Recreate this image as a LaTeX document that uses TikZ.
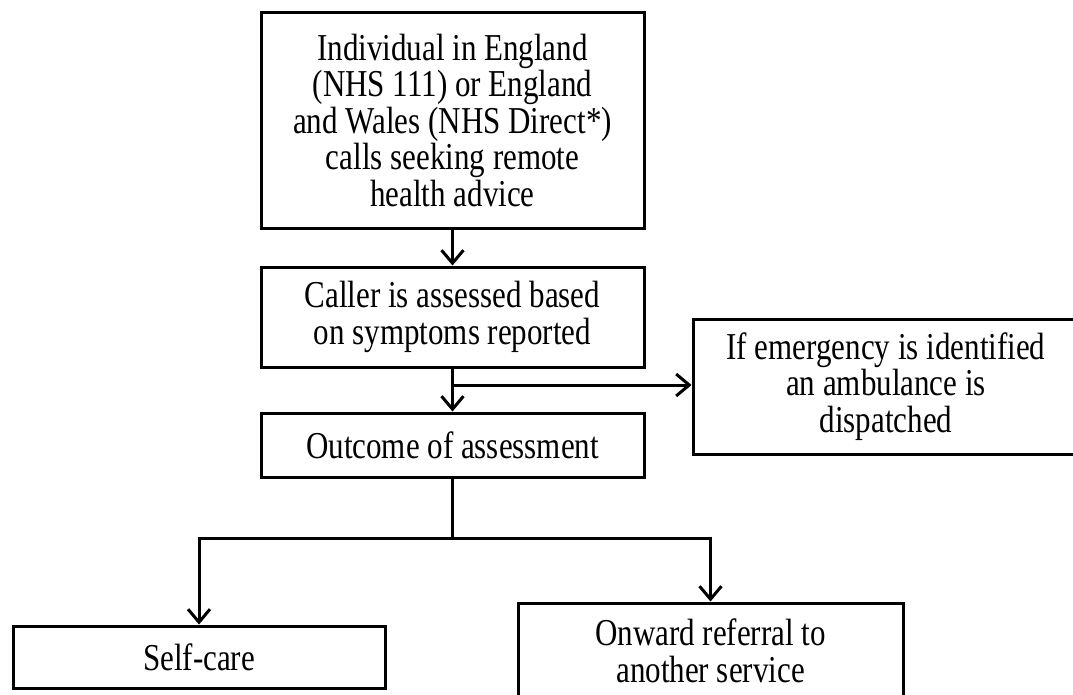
\documentclass[tikz,border=0pt]{standalone}
\usepackage{fontspec}
% tall, narrow serif lettering
\setmainfont{Liberation Serif}[FakeStretch=0.816]
\usetikzlibrary{arrows.meta}
\begin{document}
\begin{tikzpicture}[x=1pt,y=-1pt,
  box/.style={draw,line width=3pt,inner sep=0pt,align=center,
    font=\fontsize{38}{36.5}\selectfont},
  arr/.style={line width=3pt,-{Straight Barb[length=13pt,width=22pt,line width=3pt]}},
  link/.style={line width=3pt}]
\clip (0,0) rectangle (1073,695);
% process boxes
\node[box,minimum width=383pt,minimum height=215pt] (call) at (452.5,120.5)
  {Individual in England\\(NHS 111) or England\\and Wales (NHS Direct*)\\calls seeking remote\\health advice};
\node[box,minimum width=383pt,minimum height=100pt] (assess) at (452.5,317)
  {Caller is assessed based\\on symptoms reported};
\node[box,minimum width=383pt,minimum height=64pt] (outcome) at (452.5,445)
  {Outcome of assessment};
\node[box,minimum width=386pt,minimum height=135pt] (emerg) at (886,386.5)
  {If emergency is identified\\an ambulance is\\dispatched};
\node[box,minimum width=372pt,minimum height=62pt] (selfcare) at (199,657)
  {Self-care};
\node[box,minimum width=385pt,minimum height=96pt] (onward) at (710.5,651)
  {Onward referral to\\another service};
% connectors
\draw[arr] (call.south) -- (assess.north);
\draw[arr] (assess.south) -- (outcome.north);
\coordinate (fork) at (452.5,385);
\draw[arr] (fork) -- (fork -| emerg.west);
\coordinate (split) at (452.5,538);
\draw[link] (outcome.south) -- (split);
\draw[arr] (split) -| (selfcare.north);
\draw[arr] (split) -| (onward.north);
\end{tikzpicture}
\end{document}
